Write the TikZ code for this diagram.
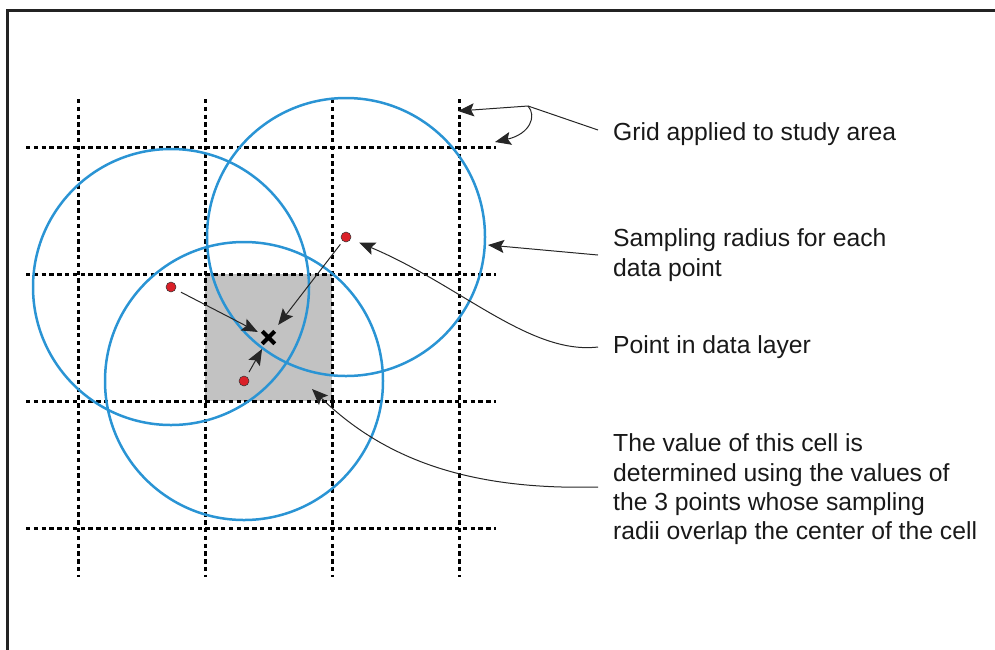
\documentclass[tikz,border=0pt]{standalone}
\usepackage{fontspec}
\setmainfont{Liberation Sans}
\usetikzlibrary{arrows.meta,shapes.misc}
\definecolor{circblue}{RGB}{42,148,212}
\definecolor{dotred}{RGB}{218,32,40}
\definecolor{cellgray}{RGB}{194,194,194}
\definecolor{framegray}{RGB}{35,35,35}
\begin{document}
\begin{tikzpicture}[x=1pt,y=-1pt,
  gridline/.style={line width=3pt, dash pattern=on 4.4pt off 3.4pt, black},
  sampcircle/.style={draw=circblue, line width=2.5pt},
  datadot/.style={circle, fill=dotred, draw=black!80, line width=0.5pt, minimum size=10pt, inner sep=0},
  centermark/.style={cross out, draw=black, line width=4pt, minimum size=8.5pt, inner sep=0},
  lbl/.style={anchor=base west, align=left, inner sep=0, font=\fontsize{24.7}{29.4}\selectfont, text=black!90},
  leader/.style={line width=1pt, black!85},
  arr/.style={leader, -{Stealth[length=16pt, width=13pt, inset=3pt]}},
]
\useasboundingbox (0,0) rectangle (995,649);
% frame
\draw[line width=3pt, framegray] (7,660) -- (7,10) -- (1000,10);
% highlighted cell
\fill[cellgray] (205,274) rectangle (332,401);
% grid
\foreach \x in {78,205,332,459} \draw[gridline] (\x,99) -- (\x,577);
\foreach \y in {147,274,401,528} \draw[gridline] (26,\y) -- (496,\y);
% data points and sampling radii
\coordinate (c1) at (171,287);
\coordinate (c2) at (346,237);
\coordinate (c3) at (244,381);
\draw[sampcircle] (c1) circle[radius=138];
\draw[sampcircle] (c2) circle[radius=139];
\draw[sampcircle] (c3) circle[radius=139];
\node[centermark] (x) at (268.5,337.5) {};
\node[datadot] (p1) at (c1) {};
\node[datadot] (p2) at (c2) {};
\node[datadot] (p3) at (c3) {};
\draw[arr, shorten <=6pt, shorten >=5pt] (p1) -- (x);
\draw[arr, shorten <=4pt, shorten >=8pt] (p2) -- (x);
\draw[arr, shorten <=5pt, shorten >=6pt] (p3) -- (x);
% labels (base anchor = baseline of last line)
\node[lbl] (gridlbl) at (613,140) {Grid applied to study area};
\node[lbl] (samplbl) at (613,276.1) {Sampling radius for each\\data point};
\node[lbl] (ptlbl) at (613,353) {Point in data layer};
\node[lbl] (celllbl) at (613,539.9) {The value of this cell is\\determined using the values of\\the 3 points whose sampling\\radii overlap the center of the cell};
% leader ends
\coordinate (gridT) at (598,130);
\coordinate (gridK) at (528,106);
\coordinate (gridTip1) at (458,111);
\coordinate (gridTip2) at (495,142);
\coordinate (sampT) at (598,255);
\coordinate (sampTip) at (488,245);
\coordinate (ptT) at (598,347);
\coordinate (cellT) at (598,487);
\coordinate (cellTip) at (312,389);
% leaders
\draw[leader] (gridT) -- (gridK);
\draw[arr] (gridK) -- (gridTip1);
\draw[arr] (gridK) .. controls (537,116) and (530,134) .. (gridTip2);
\draw[arr] (sampT) -- (sampTip);
\draw[arr, shorten >=9pt] (ptT) .. controls (530,355) and (460,285) .. (p2);
\draw[arr] (cellT) .. controls (480,490) and (390,465) .. (cellTip);
\end{tikzpicture}
\end{document}
